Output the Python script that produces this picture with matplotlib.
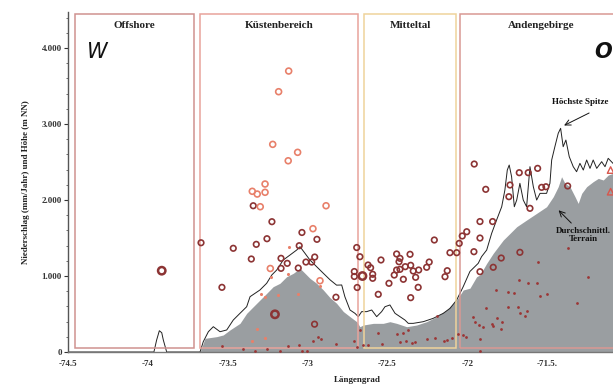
import matplotlib.pyplot as plt
from matplotlib.patches import Rectangle
from matplotlib.ticker import MultipleLocator

# ---- terrain profile: longitude (deg) / height (m NN) ----
max_lon = [-74.5, -73.962, -73.945, -73.928, -73.913, -73.903, -73.882, -73.673,
           -73.653, -73.621, -73.590, -73.548, -73.506, -73.465, -73.423, -73.381,
           -73.360, -73.329, -73.298, -73.256, -73.224, -73.193, -73.152, -73.110,
           -73.068, -73.047, -73.016, -72.985, -72.943, -72.901, -72.859, -72.818,
           -72.786, -72.766, -72.734, -72.703, -72.682, -72.661, -72.630, -72.598,
           -72.567, -72.536, -72.515, -72.484, -72.452, -72.421, -72.390, -72.369,
           -72.338, -72.275, -72.213, -72.150, -72.108, -72.066, -72.025, -71.983,
           -71.931, -71.910, -71.878, -71.847, -71.816, -71.784, -71.764, -71.749,
           -71.737, -71.722, -71.705, -71.690, -71.670, -71.649, -71.628, -71.607,
           -71.586, -71.565, -71.544, -71.503, -71.482, -71.471, -71.451, -71.430,
           -71.415, -71.399, -71.382, -71.361, -71.336, -71.315, -71.294, -71.273,
           -71.252, -71.231, -71.211, -71.189, -71.158, -71.137, -71.117, -71.087]
max_h = [0, 0, 157, 280, 254, 157, 0, 0,
         135, 267, 333, 267, 290, 421, 509, 596,
         728, 772, 816, 904, 1013, 1079, 1211, 1276,
         1342, 1386, 1299, 1211, 1123, 1036, 950, 880,
         882, 727, 553, 509, 465, 531, 531, 553,
         465, 531, 596, 619, 509, 465, 421, 377,
         377, 399, 443, 509, 574, 684, 860, 1060,
         1167, 1255, 1342, 1561, 1737, 1912, 2132, 2395,
         2461, 2307, 1912, 2000, 2220, 2000, 1912, 2439,
         2176, 2000, 2088, 2088, 2220, 2527, 2702, 2878,
         2944, 2702, 2790, 2571, 2439, 2373, 2483, 2395,
         2527, 2417, 2527, 2417, 2505, 2439, 2549, 2483]

mean_lon = [-73.673, -73.642, -73.569, -73.528, -73.486, -73.423, -73.381, -73.340,
            -73.298, -73.256, -73.215, -73.173, -73.131, -73.089, -73.047, -73.016,
            -72.985, -72.943, -72.901, -72.859, -72.818, -72.776, -72.734, -72.692,
            -72.672, -72.651, -72.588, -72.526, -72.484, -72.442, -72.379, -72.317,
            -72.254, -72.191, -72.129, -72.066, -72.025, -71.983, -71.941, -71.920,
            -71.878, -71.837, -71.774, -71.732, -71.690, -71.628, -71.565, -71.503,
            -71.461, -71.430, -71.409, -71.388, -71.357, -71.325, -71.305, -71.283,
            -71.252, -71.211, -71.179, -71.148, -71.117, -71.087]
mean_h = [0, 180, 202, 224, 290, 377, 509, 596,
          684, 772, 860, 904, 991, 1036, 1101, 1036,
          970, 904, 816, 715, 641, 533, 465, 399,
          333, 355, 377, 377, 399, 377, 333, 355,
          399, 465, 553, 684, 816, 840, 991, 1015,
          1167, 1299, 1474, 1561, 1649, 1737, 1825, 1912,
          2044, 2176, 2307, 2220, 2176, 2044, 1956, 2088,
          2176, 2242, 2285, 2264, 2329, 2351]

# ---- precipitation stations (lon, mm/Jahr) ----
dark_lon = [-73.667, -73.536, -73.465, -73.321, -73.352, -73.340, -73.223, -73.254,
            -73.166, -73.127, -73.166, -73.035, -73.052, -73.058, -73.010, -72.974,
            -72.955, -72.941, -72.956, -72.822, -72.692, -72.672, -72.707, -72.707,
            -72.689, -72.621, -72.605, -72.592, -72.592, -72.540, -72.557, -72.490,
            -72.442, -72.421, -72.427, -72.442, -72.421, -72.457, -72.400, -72.388,
            -72.354, -72.358, -72.338, -72.304, -72.323, -72.307, -72.354, -72.254,
            -72.238, -72.206, -72.139, -72.125, -72.108, -72.066, -72.050, -72.031,
            -72.003, -71.920, -71.841, -71.920, -71.958, -71.920, -71.837, -71.787,
            -71.670, -71.956, -71.884, -71.674, -71.618, -71.559, -71.732, -71.534,
            -71.507, -71.739, -71.607, -71.371]
dark_mm = [1438, 851, 1365, 1417, 1224, 1925, 1715, 1491,
           1233, 1167, 1101, 1573, 1399, 1105, 1184, 1184,
           1250, 1483, 366, 721, 1375, 1254, 1059, 994,
           849, 1145, 1109, 1023, 970, 1211, 759, 904,
           1290, 1233, 1188, 1079, 1088, 1013, 957, 1123,
           1141, 1286, 1066, 1079, 983, 851, 715, 1115,
           1184, 1474, 991, 1070, 1307, 1307, 1430, 1527,
           1583, 1717, 1717, 1500, 1320, 1057, 1115, 1237,
           1312, 2474, 2141, 2360, 2360, 2417, 2198, 2167,
           2175, 2044, 1891, 2185]

dark_big_lon = [-73.913, -73.204, -72.656]
dark_big_mm = [1070, 496, 1000]

salmon_lon = [-73.118, -73.181, -73.218, -73.062, -73.121, -73.266, -73.346, -73.315,
              -73.266, -73.296, -72.884, -72.966, -73.233, -72.922]
salmon_mm = [3698, 3426, 2733, 2628, 2517, 2211, 2115, 2079,
             2102, 1912, 1925, 1623, 1099, 938]

dot_lon = [-73.534, -73.402, -73.329, -73.256, -73.172, -73.121, -73.054, -73.037,
           -73.006, -72.935, -72.916, -72.968, -72.824, -72.707, -72.692, -72.672,
           -72.651, -72.620, -72.536, -72.557, -72.442, -72.400, -72.369, -72.421,
           -72.383, -72.348, -72.327, -72.254, -72.202, -72.191, -72.129, -72.098,
           -72.146, -72.056, -72.025, -72.008, -71.920, -71.920, -71.962, -71.951,
           -71.926, -71.900, -71.847, -71.837, -71.790, -71.816, -71.784, -71.884,
           -71.743, -71.680, -71.670, -71.628, -71.638, -71.820, -71.743, -71.707,
           -71.674, -71.618, -71.565, -71.544, -71.503, -71.555, -71.315, -71.242,
           -71.367]
dot_mm = [83, 36, 13, 36, 13, 83, 92, 13,
          13, 197, 167, 149, 109, 145, 70, 290,
          92, 92, 101, 246, 237, 254, 290, 136,
          149, 114, 128, 171, 180, 474, 158, 188,
          145, 237, 220, 201, 17, 167, 465, 391,
          355, 333, 368, 346, 307, 443, 399, 575,
          596, 596, 509, 540, 474, 816, 794, 773,
          948, 912, 912, 737, 763, 1188, 649, 991,
          1365]

salmon_dot_lon = [-73.229, -73.122, -73.118, -73.293, -73.266, -73.183, -73.062, -72.924,
                  -73.318, -73.346, -73.266]
salmon_dot_mm = [991, 1026, 1382, 763, 724, 750, 763, 865,
                 307, 145, 188]

tri_lon = [-71.102, -71.102]
tri_mm = [2395, 2110]

# region boxes: name, lon from, lon to, colour
regions = [
    ("Offshore", -74.456, -73.711, "#cf9290"),
    ("Küstenbereich", -73.673, -72.684, "#e8a39b"),
    ("Mitteltal", -72.647, -72.070, "#efd39b"),
    ("Andengebirge", -72.045, -70.9, "#d99893"),
]
region_title_lon = [-74.085, -73.18, -72.355, -71.54]

x_ticks = [-74.5, -74, -73.5, -73, -72.5, -72, -71.5]
x_ticklabels = ["-74.5", "-74", "-73.5", "-73", "-72.5", "-72", "-71.5."]
y_ticks = [0, 1000, 2000, 3000, 4000]
y_ticklabels = ["0", "1.000", "2.000", "3.000", "4.000"]

serif = "Liberation Serif"
dark_red = "#8c3434"
salmon = "#e8806a"

fig = plt.figure(figsize=(6.13, 3.84), dpi=100)
ax = fig.add_axes([68 / 613, 1 - 352 / 384, 545 / 613, 340 / 384])

ax.fill_between(mean_lon, 0, mean_h, color="#9a9ea1", lw=0, zorder=1)
ax.plot(max_lon, max_h, color="#222222", lw=0.7, zorder=2)

for (name, x0, x1, col), tx in zip(regions, region_title_lon):
    ax.add_patch(Rectangle((x0, 55), x1 - x0, 4390, fill=False, ec=col, lw=1.1, zorder=3))
    ax.text(tx, 4300, name, ha="center", va="center", fontsize=8,
            family=serif, weight="bold", color="#222222")

ax.scatter(dot_lon, dot_mm, s=4, color="#9c3535", lw=0, zorder=4)
ax.scatter(salmon_dot_lon, salmon_dot_mm, s=5, color=salmon, lw=0, zorder=4)
ax.scatter(dark_lon, dark_mm, s=16, facecolor="none", edgecolor=dark_red, lw=1.2, zorder=5)
ax.scatter(dark_big_lon, dark_big_mm, s=28, facecolor="none", edgecolor=dark_red, lw=1.8, zorder=5)
ax.scatter(salmon_lon, salmon_mm, s=18, facecolor="none", edgecolor=salmon, lw=1.2, zorder=5)
ax.scatter(tri_lon, tri_mm, s=22, marker="^", facecolor="none", edgecolor="#d8564c", lw=1.0, zorder=5)

# annotations
ax.text(-71.469, 3290, "Höchste Spitze", ha="left", va="center", fontsize=6.5,
        family=serif, weight="bold", color="#111111")
ax.annotate("", xy=(-71.409, 2965), xytext=(-71.221, 3162),
            arrowprops=dict(arrowstyle="->", lw=0.7, color="#111111"))
ax.text(-71.275, 1540, "Durchschnittl.\nTerrain", ha="center", va="center", fontsize=6.5,
        family=serif, weight="bold", color="#111111", linespacing=1.1)
ax.annotate("", xy=(-71.440, 1891), xytext=(-71.336, 1671),
            arrowprops=dict(arrowstyle="->", lw=0.7, color="#111111"))

ax.text(-74.318, 3950, "W", ha="center", va="center", fontsize=15,
        family="DejaVu Sans", style="italic", color="#111111")
ax.text(-71.15, 3950, "O", ha="center", va="center", fontsize=15,
        family="DejaVu Sans", style="italic", weight="bold", color="#111111")

ax.set_xlim(-74.5, -71.087)
ax.set_ylim(0, 4475)

ax.set_xticks(x_ticks)
ax.set_xticklabels(x_ticklabels, family=serif, weight="bold", fontsize=6.5)
ax.set_yticks(y_ticks)
ax.set_yticklabels(y_ticklabels, family=serif, weight="bold", fontsize=6.5)
ax.yaxis.set_minor_locator(MultipleLocator(200))
ax.tick_params(axis="x", length=0, pad=6, colors="#333333")
ax.tick_params(axis="y", which="major", length=3, width=0.8, pad=1.5, colors="#333333")
ax.tick_params(axis="y", which="minor", length=1.5, width=0.6, color="#555555")

for side in ["top", "right"]:
    ax.spines[side].set_visible(False)
ax.spines["left"].set_color("#555555")
ax.spines["bottom"].set_color("#777777")
ax.spines["left"].set_linewidth(1.0)
ax.spines["bottom"].set_linewidth(1.0)

ax.set_ylabel("Niederschlag (mm/Jahr) und Höhe (m NN)", family=serif, weight="bold",
              fontsize=6.5, color="#222222")
ax.yaxis.set_label_coords(-0.07, 0.5)
fig.text(357 / 613, 1 - 380 / 384, "Längengrad", ha="center", va="center",
         family=serif, weight="bold", fontsize=6.5, color="#222222")

fig.savefig("out.png", dpi=100)
